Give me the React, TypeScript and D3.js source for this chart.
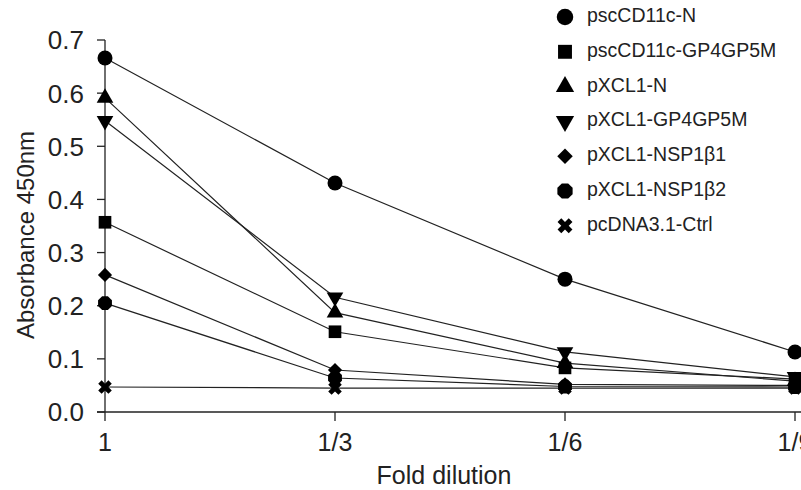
import React from "react";
import * as d3 from "d3";

const categories = ["1", "1/3", "1/6", "1/9"];
const seriesNames = [
  "pscCD11c-N",
  "pscCD11c-GP4GP5M",
  "pXCL1-N",
  "pXCL1-GP4GP5M",
  "pXCL1-NSP1β1",
  "pXCL1-NSP1β2",
  "pcDNA3.1-Ctrl",
];
const pscCD11cN = [0.666, 0.431, 0.25, 0.113];
const pscCD11cGP = [0.357, 0.151, 0.083, 0.062];
const pXCL1N = [0.591, 0.187, 0.092, 0.058];
const pXCL1GP = [0.548, 0.216, 0.113, 0.066];
const pXCL1NSP1b1 = [0.258, 0.079, 0.052, 0.05];
const pXCL1NSP1b2 = [0.205, 0.064, 0.048, 0.047];
const pcDNACtrl = [0.047, 0.045, 0.045, 0.045];
const seriesValues = [pscCD11cN, pscCD11cGP, pXCL1N, pXCL1GP, pXCL1NSP1b1, pXCL1NSP1b2, pcDNACtrl];
const yTicks = [0, 0.1, 0.2, 0.3, 0.4, 0.5, 0.6, 0.7];

const FONT = "'Liberation Sans', Arial, Helvetica, sans-serif";

function octPath(r: number) {
  const pts: [number, number][] = [];
  for (let i = 0; i < 8; i++) {
    const a = Math.PI / 8 + (i * Math.PI) / 4;
    pts.push([r * Math.cos(a), r * Math.sin(a)]);
  }
  return d3.line()(pts) + "Z";
}

function Marker({ kind, x, y, s = 1 }: { kind: number; x: number; y: number; s?: number }) {
  const sym = d3.symbol();
  let d = "";
  let rot = 0;
  switch (kind) {
    case 0:
      return <circle cx={x} cy={y} r={7.5 * s} fill="#000" />;
    case 1:
      d = sym.type(d3.symbolSquare).size(160 * s * s)() as string;
      break;
    case 2:
      d = sym.type(d3.symbolTriangle).size(120 * s * s)() as string;
      break;
    case 3:
      d = sym.type(d3.symbolTriangle).size(120 * s * s)() as string;
      rot = 180;
      break;
    case 4:
      d = sym.type(d3.symbolSquare).size(100 * s * s)() as string;
      rot = 45;
      break;
    case 5:
      d = octPath(7.5 * s);
      break;
    case 6:
      d = sym.type(d3.symbolCross).size(115 * s * s)() as string;
      rot = 45;
      break;
  }
  return <path d={d} transform={`translate(${x},${y}) rotate(${rot})`} fill="#000" />;
}

export default function App() {
  const W = 801, H = 490;
  const x = d3.scalePoint<string>().domain(categories).range([105, 795]);
  const y = d3.scaleLinear().domain([0, 0.7]).range([412, 40]);
  const line = d3
    .line<number>()
    .x((_, i) => x(categories[i]) as number)
    .y((v) => y(v));

  return (
    <svg width={W} height={H} style={{ position: "absolute", left: 0, top: 0, background: "#fff" }} fontFamily={FONT}>
      <rect width={W} height={H} fill="#fff" />
      {/* y axis */}
      <line x1={105} x2={105} y1={y(0.7)} y2={y(0)} stroke="#222" strokeWidth={1.3} />
      {yTicks.map((t) => (
        <g key={t}>
          <line x1={97} x2={105} y1={y(t)} y2={y(t)} stroke="#222" strokeWidth={1.3} />
          <text x={84} y={y(t)} dy="0.36em" textAnchor="end" fontSize={26} fill="#222">
            {t.toFixed(1)}
          </text>
        </g>
      ))}
      {/* x axis */}
      <line x1={97} x2={W} y1={y(0)} y2={y(0)} stroke="#222" strokeWidth={1.3} />
      {categories.map((c) => (
        <g key={c}>
          <line x1={x(c)} x2={x(c)} y1={y(0)} y2={y(0) + 9} stroke="#222" strokeWidth={1.3} />
          <text x={x(c)} y={442} dy="0.36em" textAnchor="middle" fontSize={25} fill="#222">
            {c}
          </text>
        </g>
      ))}
      <text x={444} y={475} dy="0.36em" textAnchor="middle" fontSize={25} fill="#222">
        Fold dilution
      </text>
      <text transform={`translate(25,235) rotate(-90)`} dy="0.36em" textAnchor="middle" fontSize={24} fill="#222">
        Absorbance 450nm
      </text>
      {/* lines */}
      {seriesValues.map((vals, i) => (
        <path key={i} d={line(vals) as string} fill="none" stroke="#222" strokeWidth={1.2} />
      ))}
      {/* markers */}
      {seriesValues.map((vals, i) =>
        vals.map((v, j) => <Marker key={`${i}-${j}`} kind={i} x={x(categories[j]) as number} y={y(v)} />)
      )}
      {/* legend */}
      {seriesNames.map((n, i) => (
        <g key={n}>
          <Marker kind={i} x={565} y={17 + i * 34.8} s={1.1} />
          <text x={587} y={15 + i * 34.8} dy="0.36em" fontSize={19.5} fill="#222">
            {n}
          </text>
        </g>
      ))}
    </svg>
  );
}
